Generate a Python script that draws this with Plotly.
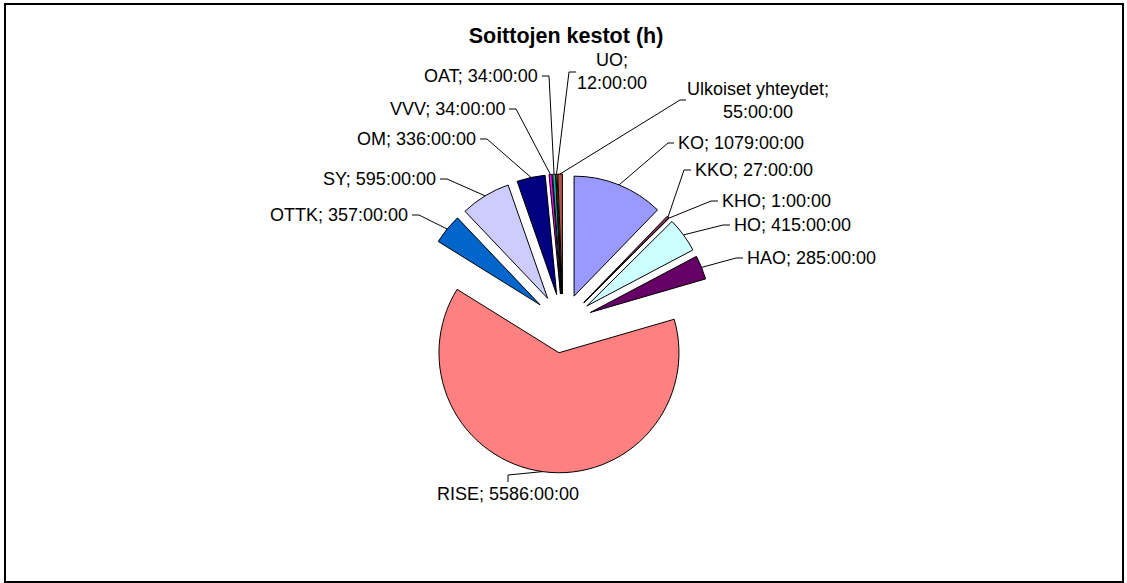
import math
import plotly.graph_objects as go

# ---------------- data ----------------
categories = ["KO", "KKO", "KHO", "HO", "HAO", "RISE", "OTTK", "SY", "OM",
              "VVV", "OAT", "UO", "Ulkoiset yhteydet"]
hours = [1079, 27, 1, 415, 285, 5586, 357, 595, 336, 34, 34, 12, 55]
colors = ["#9999FF", "#993366", "#FFFFCC", "#CCFFFF", "#660066", "#FF8080",
          "#0066CC", "#CCCCFF", "#000080", "#FF00FF", "#1AAFAF", "#FFFF00",
          "#B5504A"]
title_text = "Soittojen kestot (h)"

# ---------------- layout constants (pixels) ----------------
W, H = 1127, 583
CX, CY = 563, 323.5      # pie centre
R = 120                  # pie radius
PULL = 0.246             # explosion as fraction of radius
FONT = "Liberation Sans, Arial, sans-serif"
LABEL_SIZE = 18

# label placement: x, y, xanchor, wrap, stub start, stub elbow
label_layout = {
    "KO": (676, 143, "left", False, (674, 143), (668, 143)),
    "KKO": (693, 170, "left", False, (691, 170), (684, 170)),
    "KHO": (720, 201, "left", False, (718, 201), (711, 201)),
    "HO": (732, 225, "left", False, (730, 225), (723, 225)),
    "HAO": (745, 258, "left", False, (743, 258), (736, 258)),
    "RISE": (508, 494, "center", False, (508, 482), (508, 475)),
    "OTTK": (410, 215, "right", False, (412, 215), (419, 215)),
    "SY": (438, 179, "right", False, (440, 179), (447, 179)),
    "OM": (478, 139, "right", False, (480, 139), (487, 139)),
    "VVV": (507, 109, "right", False, (509, 109), (516, 109)),
    "OAT": (540, 76, "right", False, (542, 76), (549, 76)),
    "UO": (612, 71.5, "center", True, (576, 72), (569, 72)),
    "Ulkoiset yhteydet": (758, 100, "center", True, (686, 100), (680, 100)),
}


def px(x):
    return x / W


def py(y):
    return 1 - y / H


S = 2 * R * (1 + PULL)
domain_x = [px(CX - S / 2), px(CX + S / 2)]
domain_y = [py(CY + S / 2), py(CY - S / 2)]

fig = go.Figure()
fig.add_trace(go.Pie(
    labels=categories,
    values=hours,
    sort=False,
    direction="clockwise",
    rotation=0,
    pull=[PULL] * len(hours),
    marker=dict(colors=colors, line=dict(color="#000000", width=1)),
    textinfo="none",
    hoverinfo="label+value",
    showlegend=False,
    domain=dict(x=domain_x, y=domain_y),
))

# labels + leader lines, anchors derived from the data values
total = sum(hours)
cum = 0
annotations = []
shapes = []
for cat, h in zip(categories, hours):
    mid = (cum + h / 2) / total * 2 * math.pi
    cum += h
    dist = R * (1 + PULL)
    ax_px = CX + dist * math.sin(mid)
    ay_px = CY - dist * math.cos(mid)
    tx, ty, xa, wrap, s0, s1 = label_layout[cat]
    sep = "<br>" if wrap else " "
    text = f"{cat};{sep}{h}:00:00"
    annotations.append(dict(
        x=px(tx), y=py(ty), xref="paper", yref="paper",
        text=text, showarrow=False, xanchor=xa, yanchor="middle",
        align="center",
        font=dict(family=FONT, size=LABEL_SIZE, color="#000000"),
    ))
    path = (f"M {px(ax_px)},{py(ay_px)} L {px(s1[0])},{py(s1[1])} "
            f"L {px(s0[0])},{py(s0[1])}")
    shapes.append(dict(type="path", path=path, xref="paper", yref="paper",
                       line=dict(color="#000000", width=1)))

# chart border
shapes.append(dict(type="rect", xref="paper", yref="paper",
                   x0=px(5), x1=px(1123), y0=py(582), y1=py(4),
                   line=dict(color="#000000", width=2)))

fig.update_layout(
    width=W, height=H,
    margin=dict(l=0, r=0, t=0, b=0),
    paper_bgcolor="#FFFFFF",
    plot_bgcolor="#FFFFFF",
    title=dict(text=f"<b>{title_text}</b>", x=px(566), y=py(35),
               xref="paper", yref="paper", xanchor="center", yanchor="middle",
               font=dict(family=FONT, size=21.5, color="#000000")),
    annotations=annotations,
    shapes=shapes,
)

fig.write_html(
    "out.html",
    config={"displayModeBar": False},
    post_script="document.body.style.margin='0';document.body.style.overflow='hidden';",
)
